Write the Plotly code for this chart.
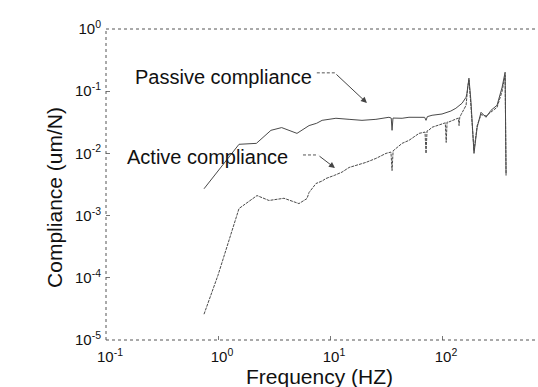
import plotly.graph_objects as go

# ---- data ----
passive_freq = [0.75, 1.0, 1.54, 2.2, 2.97, 3.7, 5.07, 6.5, 7.6, 8.5, 11.3, 14.8, 19.3,
                25.7, 33.6, 35.2, 35.8, 36.5, 44, 50.7, 58.6, 70, 72, 74, 81.5, 100,
                120, 133, 151, 164, 167, 174, 181, 193, 206, 223, 247, 274, 310, 344, 366, 373]
passive_comp = [0.0027, 0.0053, 0.014, 0.0145, 0.0235, 0.026, 0.021, 0.028, 0.0305, 0.034,
                0.0367, 0.0353, 0.034, 0.0353, 0.0381, 0.037, 0.0235, 0.037, 0.0367, 0.0381,
                0.0381, 0.038, 0.034, 0.039, 0.041, 0.043, 0.048, 0.0532, 0.064, 0.08,
                0.0929, 0.162, 0.0716, 0.01, 0.0263, 0.0458, 0.0381, 0.0494, 0.0594,
                0.116, 0.202, 0.0044]

active_freq = [0.75, 1.0, 1.54, 2.23, 2.85, 3.88, 5.28, 6.23, 6.5, 7.5, 8.5, 9.2, 10.9,
               12.8, 14.8, 20.9, 25.7, 31.6, 35.0, 35.8, 36.6, 38.8, 44, 50.7, 62.4, 70.5,
               72, 73.5, 76, 81.5, 100, 107, 109, 111, 115, 133, 140, 142, 144, 148, 164,
               170, 174, 181, 193, 206, 223, 247, 274, 310, 344, 366, 373]
active_comp = [2.6e-5, 1.1e-4, 0.0013, 0.0021, 0.00175, 0.0019, 0.00156, 0.00188, 0.00235,
               0.00328, 0.0036, 0.00395, 0.00442, 0.0050, 0.00594, 0.00716, 0.0083, 0.01,
               0.0105, 0.0053, 0.011, 0.012, 0.0145, 0.0162, 0.021, 0.022, 0.01, 0.023,
               0.0235, 0.0263, 0.030, 0.031, 0.015, 0.032, 0.032, 0.036, 0.037, 0.028,
               0.038, 0.042, 0.0594, 0.12, 0.15, 0.06, 0.011, 0.028, 0.042, 0.040, 0.046,
               0.055, 0.10, 0.18, 0.0048]

x_tickvals = [0.1, 1, 10, 100]
x_ticktext = ["10<sup>-1</sup>", "10<sup>0</sup>", "10<sup>1</sup>", "10<sup>2</sup>"]
y_tickvals = [1e-5, 1e-4, 1e-3, 1e-2, 1e-1, 1]
y_ticktext = ["10<sup>-5</sup>", "10<sup>-4</sup>", "10<sup>-3</sup>", "10<sup>-2</sup>",
              "10<sup>-1</sup>", "10<sup>0</sup>"]

FONT = "Liberation Sans, Arial, sans-serif"
LINE = "#4a4a4a"

fig = go.Figure()
fig.add_trace(go.Scatter(x=passive_freq, y=passive_comp, mode="lines",
                         line=dict(color=LINE, width=1), name="Passive compliance"))
fig.add_trace(go.Scatter(x=active_freq, y=active_comp, mode="lines",
                         line=dict(color=LINE, width=1, dash="3px,1px"), name="Active compliance"))

fig.update_layout(
    width=538, height=387,
    margin=dict(l=106, r=0, t=29, b=47),
    paper_bgcolor="white", plot_bgcolor="white",
    showlegend=False,
    font=dict(family=FONT, color="#111", size=15),
)
fig.update_xaxes(type="log", range=[-1, 2.857], showgrid=False, zeroline=False,
                 tickvals=x_tickvals, ticktext=x_ticktext, ticks="inside", ticklen=4,
                 tickcolor="#777", showline=False, tickfont=dict(size=15),
                 ticklabelstandoff=6, ticklabelshift=4)
fig.update_yaxes(type="log", range=[-5, 0], showgrid=False, zeroline=False,
                 tickvals=y_tickvals, ticktext=y_ticktext, ticks="inside", ticklen=4,
                 tickcolor="#777", showline=False, tickfont=dict(size=15),
                 ticklabelstandoff=4)

# dotted frame like the scan
frame = dict(type="line", xref="paper", yref="paper", line=dict(color="#555", width=1, dash="dot"))
fig.add_shape(**frame, x0=0, x1=1, y0=1, y1=1)
fig.add_shape(**frame, x0=0, x1=0, y0=0, y1=1)
fig.add_shape(**frame, x0=0, x1=1, y0=0, y1=0)

# axis titles
fig.add_annotation(text="Compliance (um/N)", xref="paper", yref="paper", x=-0.118, y=0.457,
                   textangle=-90, showarrow=False, font=dict(size=21),
                   xanchor="center", yanchor="middle")
fig.add_annotation(text="Frequency (HZ)", xref="paper", yref="paper", x=0.495, y=-0.117,
                   showarrow=False, font=dict(size=21), xanchor="center", yanchor="middle")

# labels with arrows
fig.add_annotation(text="Passive compliance", xref="paper", yref="paper", x=0.0625, y=0.846,
                   showarrow=False, font=dict(size=20), xanchor="left", yanchor="middle")
fig.add_annotation(text="Active compliance", xref="paper", yref="paper", x=0.044, y=0.588,
                   showarrow=False, font=dict(size=20), xanchor="left", yanchor="middle")
seg = dict(type="line", xref="paper", yref="paper", line=dict(color="#555", width=1, dash="3px,2px"))
fig.add_shape(**seg, x0=0.488, x1=0.530, y0=0.859, y1=0.859)
fig.add_shape(**seg, x0=0.456, x1=0.491, y0=0.595, y1=0.595)
fig.add_annotation(text="", xref="paper", yref="paper", x=0.604, y=0.762, ax=-32, ay=-30,
                   showarrow=True, arrowhead=2, arrowsize=1.2, arrowwidth=1, arrowcolor="#444")
fig.add_annotation(text="", xref="paper", yref="paper", x=0.530, y=0.553, ax=-17, ay=-13,
                   showarrow=True, arrowhead=2, arrowsize=1.2, arrowwidth=1, arrowcolor="#444")

fig.write_html("out.html")
